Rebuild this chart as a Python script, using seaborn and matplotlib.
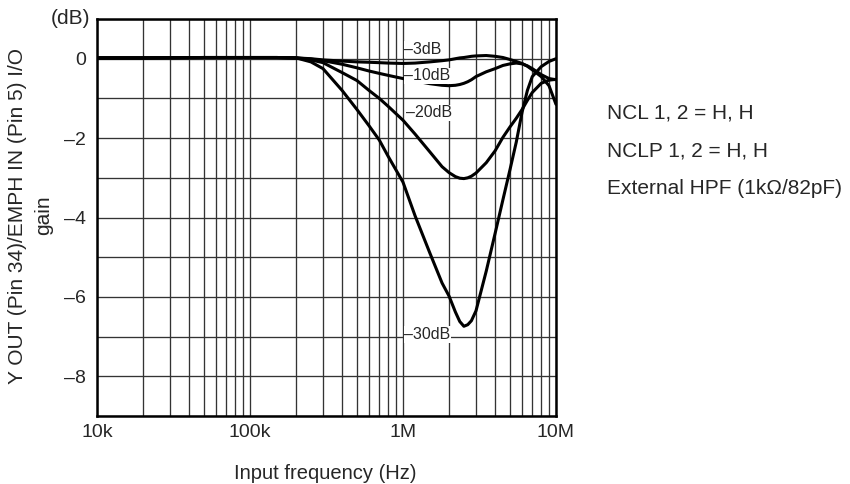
import numpy as np
import pandas as pd
import matplotlib
matplotlib.use("Agg")
import matplotlib.pyplot as plt
from matplotlib.ticker import FixedLocator, FixedFormatter, NullFormatter
import seaborn as sns

# ---------------- data ----------------
freq_hz = [10e3, 20e3, 50e3, 100e3, 150e3, 200e3, 250e3, 300e3, 400e3, 500e3,
           600e3, 700e3, 800e3, 1e6, 1.2e6, 1.5e6, 1.8e6, 2e6, 2.2e6, 2.35e6,
           2.5e6, 2.65e6, 2.8e6, 3e6, 3.5e6, 4e6, 4.5e6, 5e6, 5.5e6, 6e6,
           6.5e6, 7e6, 8e6, 9e6, 10e6]

gain_m3db = [0.02, 0.02, 0.03, 0.03, 0.03, 0.02, 0.0, -0.03, -0.06, -0.08,
             -0.09, -0.10, -0.11, -0.12, -0.11, -0.08, -0.05, -0.03, 0.0, 0.02,
             0.03, 0.045, 0.06, 0.07, 0.08, 0.06, 0.03, -0.02, -0.07, -0.12,
             -0.19, -0.28, -0.45, -0.68, -1.15]

gain_m10db = [0.02, 0.02, 0.03, 0.03, 0.03, 0.02, -0.01, -0.05, -0.14, -0.23,
              -0.31, -0.37, -0.42, -0.50, -0.56, -0.63, -0.67, -0.68, -0.67, -0.65,
              -0.62, -0.58, -0.53, -0.45, -0.33, -0.25, -0.17, -0.13, -0.11, -0.13,
              -0.18, -0.25, -0.40, -0.50, -0.53]

gain_m20db = [0.02, 0.02, 0.03, 0.03, 0.03, 0.02, -0.03, -0.10, -0.35, -0.55,
              -0.80, -1.00, -1.20, -1.55, -1.90, -2.35, -2.72, -2.87, -2.97, -3.01,
              -3.02, -3.00, -2.96, -2.88, -2.62, -2.32, -1.98, -1.72, -1.50, -1.28,
              -1.05, -0.85, -0.62, -0.54, -0.52]

gain_m30db = [0.02, 0.02, 0.03, 0.03, 0.03, 0.02, -0.08, -0.25, -0.80, -1.28,
              -1.69, -2.05, -2.46, -3.11, -3.96, -4.90, -5.65, -5.98, -6.38, -6.62,
              -6.74, -6.70, -6.60, -6.35, -5.35, -4.40, -3.55, -2.80, -2.10, -1.35,
              -0.80, -0.45, -0.20, -0.07, 0.0]

curve_names = ["–3dB", "–10dB", "–20dB", "–30dB"]
curve_label_x = [1.02e6, 1.02e6, 1.05e6, 1.02e6]
curve_label_y = [0.23, -0.43, -1.36, -6.95]

xtick_vals = [1e4, 1e5, 1e6, 1e7]
xtick_labels = ["10k", "100k", "1M", "10M"]
ytick_vals = [0, -2, -4, -6, -8]
ytick_labels = ["0", "–2", "–4", "–6", "–8"]

notes = ["NCL 1, 2 = H, H", "NCLP 1, 2 = H, H", "External HPF (1kΩ/82pF)"]

# ---------------- styling ----------------
sns.set_style("white")
plt.rcParams["font.family"] = ["Liberation Sans", "DejaVu Sans"]

fig = plt.figure(figsize=(8.5, 4.84), dpi=100)
ax = fig.add_axes([97/850, 1 - 416/484, (556 - 97)/850, (416 - 19)/484])

df = pd.concat([
    pd.DataFrame({"freq": freq_hz, "gain": g, "curve": n})
    for g, n in zip([gain_m3db, gain_m10db, gain_m20db, gain_m30db], curve_names)
], ignore_index=True)

sns.lineplot(data=df, x="freq", y="gain", units="curve", estimator=None,
             color="black", linewidth=2.2, ax=ax, legend=False, zorder=3)

ax.set_xscale("log")
ax.set_xlim(1e4, 1e7)
ax.set_ylim(-9, 1)

# grid
minor_x = [m * 10**e for e in range(4, 7) for m in range(2, 10)]
ax.xaxis.set_major_locator(FixedLocator(xtick_vals))
ax.xaxis.set_major_formatter(FixedFormatter(xtick_labels))
ax.xaxis.set_minor_locator(FixedLocator(minor_x))
ax.xaxis.set_minor_formatter(NullFormatter())
ax.yaxis.set_major_locator(FixedLocator(ytick_vals))
ax.yaxis.set_major_formatter(FixedFormatter(ytick_labels))
ax.yaxis.set_minor_locator(FixedLocator(list(range(-9, 2))))
ax.grid(True, which="both", color="#333333", linewidth=0.95)
ax.set_axisbelow(True)
ax.tick_params(which="both", length=0)
ax.tick_params(axis="x", labelsize=14, pad=6)
ax.tick_params(axis="y", labelsize=14, pad=8)

for sp in ax.spines.values():
    sp.set_visible(True)
    sp.set_color("black")
    sp.set_linewidth(1.8)

for name, lx, ly in zip(curve_names, curve_label_x, curve_label_y):
    ax.text(lx, ly, name, fontsize=11.5, ha="left", va="center", zorder=4,
            bbox=dict(facecolor="white", edgecolor="none", pad=0.5))

ax.set_xlabel("Input frequency (Hz)", fontsize=14.5)
ax.xaxis.set_label_coords(0.497, -0.12)
ax.set_ylabel("Y OUT (Pin 34)/EMPH IN (Pin 5) I/O\ngain", fontsize=15,
              multialignment="center", linespacing=1.45)
ax.yaxis.set_label_coords(-0.096, 0.505)

ax.text(-0.015, 1.0, "(dB)", transform=ax.transAxes, fontsize=15,
        ha="right", va="center")

for i, t in enumerate(notes):
    fig.text(607/850, 1 - (113 + 38*i)/484, t, fontsize=15, ha="left", va="center")

fig.savefig("out.png", dpi=100)
